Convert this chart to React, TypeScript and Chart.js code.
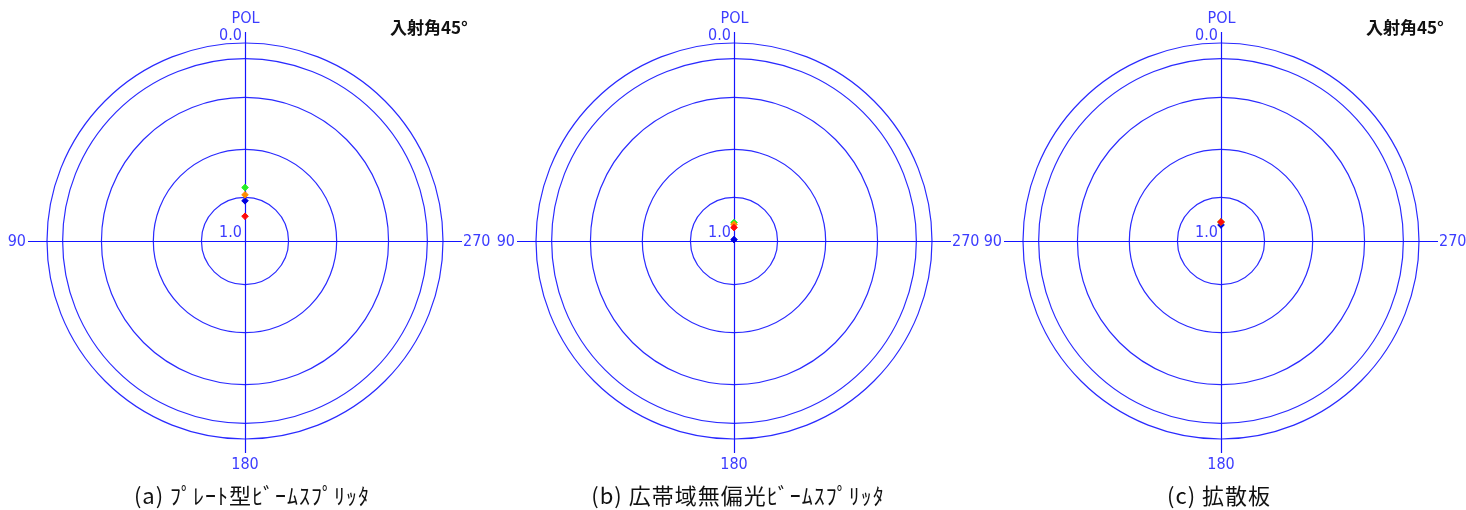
import React, { useEffect, useRef } from 'react';
import { Chart, registerables } from 'chart.js';

Chart.register(...registerables);

// Directions, clockwise from the top of each polar plot
const directionLabels = ['POL', '270', '180', '90'];
// Radial grid rings (scale runs 1.0 at the centre to 0.0 at the rim)
const ringValues = [0.78, 0.537, 0.275, 0.079, 0.0];
// Series (index 0 is drawn on top)
const seriesNames = ['red', 'orange', 'green', 'blue'];
const seriesColors = ['#ff0a0a', '#ff8c00', '#22ee22', '#0000e0'];
// Values of each series along the POL direction, per panel
const plateValues = [0.875, 0.767, 0.73, 0.797];
const broadbandValues = [0.932, 0.916, 0.907, 0.993];
const diffuserValues = [0.904, 0.904, 0.904, 0.919];
const panelValues = [plateValues, broadbandValues, diffuserValues];
const captions = ['(a) ﾌﾟﾚｰﾄ型ﾋﾞｰﾑｽﾌﾟﾘｯﾀ', '(b) 広帯域無偏光ﾋﾞｰﾑｽﾌﾟﾘｯﾀ', '(c) 拡散板'];
const incidenceNote = '入射角45°';
const showNote = [true, false, true];

// layout constants
const PANEL_W = 500;
const PANEL_H = 510;
const panelLefts = [0, 489, 976];
const captionCenters = [252, 249, 243];
const LABEL_FONT = '16px "Liberation Sans Narrow", "DejaVu Sans Condensed", "Liberation Sans", sans-serif';
const LABEL_COLOR = '#3c3cff';

const decorPlugin = {
  id: 'polarDecor',
  beforeDatasetsDraw(chart: any) {
    const r = chart.scales.r;
    const ctx = chart.ctx;
    const cx = r.xCenter;
    const cy = r.yCenter;
    const R = r.getDistanceFromCenterForValue(r.min);
    ctx.save();
    ctx.strokeStyle = '#1414ff';
    ctx.lineWidth = 1.2;
    ctx.beginPath();
    ctx.moveTo(cx + 0.5, cy - R - 11);
    ctx.lineTo(cx + 0.5, cy + R + 14);
    ctx.moveTo(cx - R - 19, cy + 0.5);
    ctx.lineTo(cx + R + 19, cy + 0.5);
    ctx.stroke();

    ctx.fillStyle = LABEL_COLOR;
    ctx.font = LABEL_FONT;
    ctx.textBaseline = 'middle';
    const labels = chart.data.labels as string[];
    // top
    ctx.textAlign = 'center';
    ctx.fillText(labels[0], cx + 0.5, cy - R - 24);
    // right
    ctx.textAlign = 'left';
    ctx.fillText(labels[1], cx + R + 20, cy + 0.5);
    // bottom
    ctx.textAlign = 'center';
    ctx.fillText(labels[2], cx, cy + R + 26);
    // left
    ctx.textAlign = 'right';
    ctx.fillText(labels[3], cx - R - 21, cy + 0.5);
    // radial end labels
    ctx.textAlign = 'right';
    ctx.fillText(Number(r.min).toFixed(1), cx - 3, cy - R - 7);
    ctx.fillText(Number(r.max).toFixed(1), cx - 3, cy - 8);
    ctx.restore();
  },
};

function PolarPanel({ values }: { values: number[] }) {
  const ref = useRef<HTMLCanvasElement | null>(null);
  useEffect(() => {
    if (!ref.current) return;
    const chart = new Chart(ref.current, {
      type: 'radar',
      data: {
        labels: directionLabels,
        datasets: seriesNames.map((name, i) => ({
          label: name,
          data: [values[i], null, null, null],
          borderColor: seriesColors[i],
          backgroundColor: seriesColors[i],
          pointBackgroundColor: seriesColors[i],
          pointBorderColor: seriesColors[i],
          pointStyle: 'rectRot',
          pointRadius: 3.3,
          pointBorderWidth: 1,
          borderWidth: 0,
          showLine: false,
          fill: false,
        })),
      },
      options: {
        animation: false,
        responsive: false,
        maintainAspectRatio: false,
        layout: { padding: { left: 47, right: 57, top: 43, bottom: 71 } },
        plugins: { legend: { display: false }, tooltip: { enabled: false } },
        scales: {
          r: {
            min: 0,
            max: 1,
            reverse: true,
            startAngle: 0,
            afterBuildTicks: (s: any) => {
              s.ticks = [1, ...ringValues].map((v) => ({ value: v }));
            },
            grid: { circular: true, color: '#2a2aff', lineWidth: 1.2 },
            angleLines: { display: false },
            pointLabels: { display: false },
            ticks: { display: false },
          },
        },
      } as any,
      plugins: [decorPlugin],
    } as any);
    return () => chart.destroy();
  }, [values]);
  return <canvas ref={ref} width={PANEL_W} height={PANEL_H} style={{ display: 'block' }} />;
}

export default function App() {
  return (
    <div
      style={{
        position: 'fixed',
        left: 0,
        top: 0,
        width: 1466,
        height: 510,
        background: '#ffffff',
        overflow: 'hidden',
      }}
    >
      {panelValues.map((vals, i) => (
        <div
          key={i}
          style={{ position: 'absolute', left: panelLefts[i], top: 0, width: PANEL_W, height: PANEL_H }}
        >
          <PolarPanel values={vals} />
          {showNote[i] && (
            <div
              style={{
                position: 'absolute',
                left: 390,
                top: 17,
                font: 'bold 17px "Noto Sans CJK JP", sans-serif',
                lineHeight: '19px',
                color: '#111',
                whiteSpace: 'nowrap',
              }}
            >
              {incidenceNote}
            </div>
          )}
          <div
            style={{
              position: 'absolute',
              left: captionCenters[i] - 200,
              width: 400,
              top: 482,
              textAlign: 'center',
              font: '22px "Noto Sans CJK JP", sans-serif',
              letterSpacing: '1px',
              lineHeight: '24px',
              color: '#111',
              whiteSpace: 'nowrap',
            }}
          >
            {captions[i]}
          </div>
        </div>
      ))}
    </div>
  );
}
